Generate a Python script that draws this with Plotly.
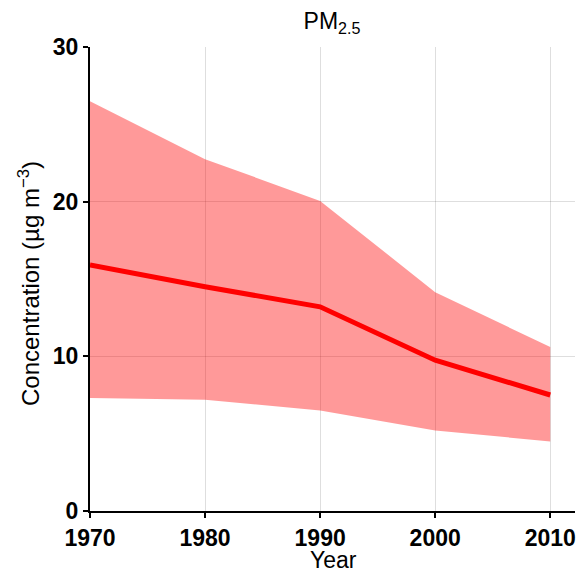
import plotly.graph_objects as go

years = [1970, 1980, 1990, 2000, 2010]
mean_conc = [15.9, 14.5, 13.2, 9.75, 7.5]
upper_conc = [26.5, 22.75, 20.05, 14.15, 10.6]
lower_conc = [7.3, 7.2, 6.5, 5.2, 4.5]
x_ticks = [1970, 1980, 1990, 2000, 2010]
y_ticks = [0, 10, 20, 30]

FONT = "Liberation Sans, Arial, sans-serif"

W, H = 577, 570

fig = go.Figure()
fig.add_trace(go.Scatter(x=years, y=lower_conc, mode="lines", line=dict(width=0),
                         showlegend=False, hoverinfo="skip"))
fig.add_trace(go.Scatter(x=years, y=upper_conc, mode="lines", line=dict(width=0),
                         fill="tonexty", fillcolor="rgba(255,0,0,0.4)",
                         showlegend=False, hoverinfo="skip"))
fig.add_trace(go.Scatter(x=years, y=mean_conc, mode="lines",
                         line=dict(color="#FF0000", width=5), showlegend=False))

fig.update_layout(
    width=W, height=H,
    margin=dict(l=90, r=2, t=47, b=59, autoexpand=False),
    paper_bgcolor="white", plot_bgcolor="white",
    font=dict(family=FONT, color="black"),
    title=dict(text="PM<sub>2.5</sub>", x=332/W, xanchor="center",
               yref="container", y=1 - 21/H, yanchor="middle",
               font=dict(size=23, color="black", family=FONT)),
    annotations=[
        dict(text="Year", xref="paper", yref="paper", x=(333-90)/485, y=0,
             xanchor="center", yanchor="top", yshift=-34, showarrow=False,
             font=dict(size=23, family=FONT, color="black")),
        dict(text="Concentration (µg m<sup>−3</sup>)", xref="paper", yref="paper",
             x=0, y=0.5, xanchor="center", yanchor="middle", xshift=-61, yshift=-5,
             textangle=-90, showarrow=False,
             font=dict(size=24, family=FONT, color="black")),
    ],
)
fig.update_xaxes(
    range=[1970, 2012.15], tickvals=x_ticks, ticktext=[str(v) for v in x_ticks],
    showgrid=True, gridcolor="rgba(0,0,0,0.13)", gridwidth=1,
    showline=True, linecolor="black", linewidth=2,
    ticks="outside", ticklen=5, tickwidth=2, tickcolor="black",
    tickfont=dict(size=23, family=FONT, color="black", weight="bold"),
    ticklabeloverflow="allow",
    zeroline=False,
)
fig.update_yaxes(
    range=[0, 30], tickvals=y_ticks, ticktext=[str(v) for v in y_ticks],
    showgrid=True, gridcolor="rgba(0,0,0,0.13)", gridwidth=1,
    showline=True, linecolor="black", linewidth=2,
    ticks="outside", ticklen=5, tickwidth=2, tickcolor="black",
    tickfont=dict(size=23, family=FONT, color="black", weight="bold"),
    zeroline=False,
)

fig.write_html(
    "out.html",
    config={"displayModeBar": False},
    post_script="document.body.style.margin='0';"
                "document.body.style.overflow='hidden';"
                "document.documentElement.style.overflow='hidden';",
)
